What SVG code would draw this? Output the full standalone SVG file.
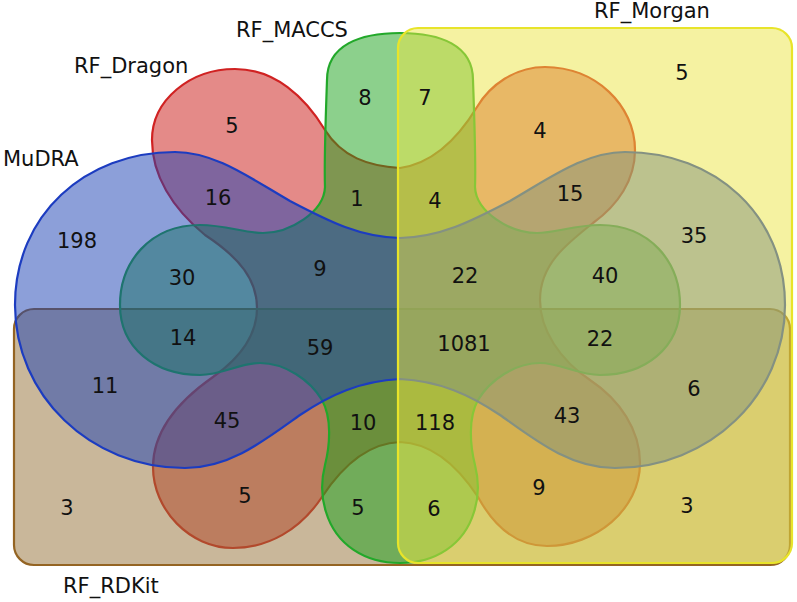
<svg xmlns="http://www.w3.org/2000/svg" width="797" height="602" viewBox="0 0 797 602">
<style>
  .set { stroke-width: 2.2; }
  .lbl { font-family: "DejaVu Sans", "Liberation Sans", sans-serif; font-size: 21px; fill: #111; }
  .num { font-family: "DejaVu Sans", "Liberation Sans", sans-serif; font-size: 21px; fill: #111; text-anchor: middle; }
</style>
<rect width="797" height="602" fill="#ffffff"/>
<g id="RF_Dragon">
  <path class="set" fill="#c91511" fill-opacity="0.5" stroke="#d02222" d="M 400,168 C 368,166 342,157 325,130 C 305,97 275,69 235,69 C 190,69 152,100 152,140 C 152,175 172,208 205,235 C 240,258 257,280 257,308 C 257,335 240,358 213,377 C 180,400 153,430 153,467 C 153,510 190,548 233,548 C 268,548 300,530 322,497 C 345,462 370,443 400,442 C 430,443 455,462 478,497 C 495,528 518,546 547,546 C 595,546 640,510 640,463 C 640,430 620,400 590,380 C 560,360 540,330 540,300 C 540,265 565,245 593,223 C 618,205 635,180 635,150 C 635,105 595,67 545,67 C 515,67 490,85 477,107 C 460,135 435,163 400,168 Z"/>
</g>
<g id="RF_RDKit">
  <rect class="set" x="14" y="309" width="776" height="256" rx="20" ry="20" fill="#946f35" fill-opacity="0.5" stroke="#946423"/>
</g>
<g id="RF_MACCS">
  <path class="set" fill="#19a119" fill-opacity="0.5" stroke="#22a82a" d="M 400,33 C 360,33 327,45 327,80 C 326,110 324,160 325,187 C 324,212 290,233 263,233 C 245,233 225,225 200,225 C 150,225 120,262 120,305 C 120,348 155,375 200,375 C 222,375 240,363 260,363 C 285,363 310,380 322,400 C 332,418 330,445 325,465 C 320,485 322,500 326,512 C 336,545 365,563 400,563 C 435,563 464,545 474,512 C 478,500 480,485 475,465 C 470,445 468,418 478,400 C 490,380 515,363 540,363 C 560,363 578,375 600,375 C 645,375 680,348 680,305 C 680,262 650,225 600,225 C 575,225 555,233 537,233 C 510,233 476,212 475,187 C 476,160 474,110 473,80 C 473,45 440,33 400,33 Z"/>
</g>
<g id="MuDRA">
  <path class="set" fill="#1a40b4" fill-opacity="0.5" stroke="#1c3cc0" d="M 400,238 C 360,237 330,222 290,201 C 250,178 215,152 175,152 C 85,152 15,215 15,305 C 15,395 90,468 185,468 C 230,468 265,440 300,415 C 330,395 360,381 400,379 C 440,381 470,395 500,415 C 535,440 570,468 615,468 C 710,468 785,395 785,305 C 785,215 715,152 625,152 C 585,152 550,178 510,201 C 470,222 440,237 400,238 Z"/>
</g>
<g id="RF_Morgan">
  <rect class="set" x="398" y="28" width="394" height="535" rx="20" ry="20" fill="#ebe543" fill-opacity="0.5" stroke="#e8e42a"/>
</g>
<g id="connectors"></g>
<g id="labels">
  <text class="lbl" x="74" y="73">RF_Dragon</text>
  <text class="lbl" x="236" y="37">RF_MACCS</text>
  <text class="lbl" x="3" y="166">MuDRA</text>
  <text class="lbl" x="594" y="18">RF_Morgan</text>
  <text class="lbl" x="63" y="593">RF_RDKit</text>
</g>
<g id="counts">
  <text class="num" x="365" y="105">8</text>
  <text class="num" x="425" y="105">7</text>
  <text class="num" x="682" y="80">5</text>
  <text class="num" x="232" y="133">5</text>
  <text class="num" x="540" y="138">4</text>
  <text class="num" x="218" y="205">16</text>
  <text class="num" x="357" y="206">1</text>
  <text class="num" x="435" y="208">4</text>
  <text class="num" x="570" y="201">15</text>
  <text class="num" x="77" y="248">198</text>
  <text class="num" x="694" y="243">35</text>
  <text class="num" x="182" y="285">30</text>
  <text class="num" x="320" y="276">9</text>
  <text class="num" x="465" y="283">22</text>
  <text class="num" x="605" y="283">40</text>
  <text class="num" x="183" y="345">14</text>
  <text class="num" x="320" y="355">59</text>
  <text class="num" x="464" y="351">1081</text>
  <text class="num" x="600" y="346">22</text>
  <text class="num" x="105" y="393">11</text>
  <text class="num" x="694" y="396">6</text>
  <text class="num" x="227" y="428">45</text>
  <text class="num" x="363" y="430">10</text>
  <text class="num" x="435" y="430">118</text>
  <text class="num" x="567" y="423">43</text>
  <text class="num" x="67" y="515">3</text>
  <text class="num" x="245" y="503">5</text>
  <text class="num" x="358" y="515">5</text>
  <text class="num" x="434" y="516">6</text>
  <text class="num" x="539" y="495">9</text>
  <text class="num" x="687" y="513">3</text>
</g>
</svg>
